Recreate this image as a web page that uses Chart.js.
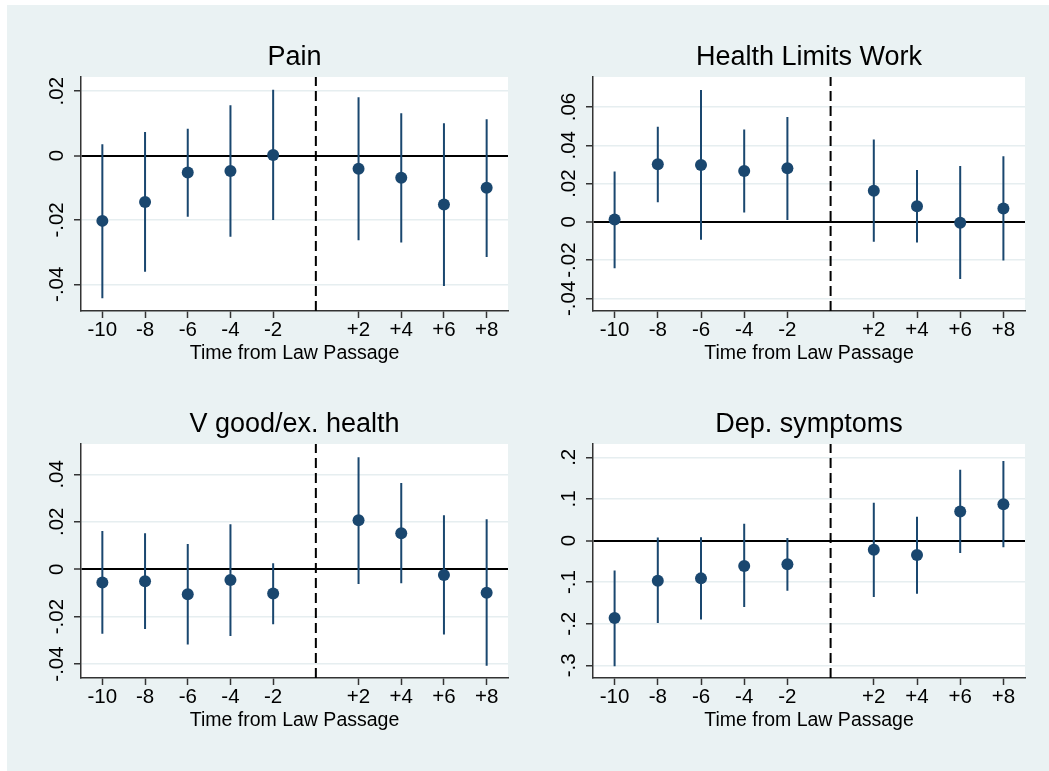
<!DOCTYPE html>
<html>
<head>
<meta charset="utf-8">
<script src="https://cdn.jsdelivr.net/npm/chart.js@4"></script>
<style>
  html, body { margin: 0; padding: 0; background: #fff; }
  #wrap { position: relative; width: 1049px; height: 771px; overflow: hidden; }
  #bg { position: absolute; left: 7px; top: 5px; right: 0; bottom: 0; background: #eaf2f3; }
  canvas { position: absolute; }
</style>
</head>
<body>
<div id="wrap"><div id="bg"></div></div>
<script>
// event time (years from law passage)
const periods = [-10, -8, -6, -4, -2, 2, 4, 6, 8]

// Pain
const painCoef = [-0.0203, -0.0144, -0.0053, -0.0048, 0.0002, -0.0041, -0.0069, -0.0152, -0.0100]
const painLo   = [-0.0443, -0.0361, -0.0190, -0.0252, -0.0200, -0.0263, -0.0270, -0.0405, -0.0315]
const painHi   = [0.0035, 0.0073, 0.0083, 0.0156, 0.0204, 0.0181, 0.0131, 0.0100, 0.0113]
const painTicks = [-0.04, -0.02, 0, 0.02]
const painRange = [-0.0483, 0.0244]

// Health Limits Work
const workCoef = [0.0012, 0.0301, 0.0297, 0.0266, 0.0280, 0.0162, 0.0082, -0.0005, 0.0070]
const workLo   = [-0.0242, 0.0103, -0.0094, 0.0049, 0.0010, -0.0104, -0.0108, -0.0299, -0.0202]
const workHi   = [0.0263, 0.0497, 0.0689, 0.0483, 0.0548, 0.0430, 0.0271, 0.0292, 0.0343]
const workTicks = [-0.04, -0.02, 0, 0.02, 0.04, 0.06]
const workRange = [-0.0466, 0.0757]

// V good/ex. health
const goodCoef = [-0.0056, -0.0051, -0.0106, -0.0046, -0.0103, 0.0206, 0.0152, -0.0025, -0.0099]
const goodLo   = [-0.0272, -0.0252, -0.0318, -0.0282, -0.0232, -0.0062, -0.0059, -0.0276, -0.0407]
const goodHi   = [0.0161, 0.0152, 0.0106, 0.0189, 0.0025, 0.0472, 0.0363, 0.0227, 0.0211]
const goodTicks = [-0.04, -0.02, 0, 0.02, 0.04]
const goodRange = [-0.0459, 0.0528]

// Dep. symptoms
const depCoef = [-0.186, -0.097, -0.091, -0.061, -0.057, -0.022, -0.035, 0.070, 0.087]
const depLo   = [-0.302, -0.198, -0.190, -0.160, -0.121, -0.136, -0.128, -0.030, -0.016]
const depHi   = [-0.072, 0.007, 0.008, 0.040, 0.006, 0.091, 0.057, 0.170, 0.191]
const depTicks = [-0.3, -0.2, -0.1, 0, 0.1, 0.2]
const depRange = [-0.3305, 0.232]

const xRange = [-11, 9]
const xTitle = 'Time from Law Passage'

const NAVY = '#1a476f'
const FONT = '"Liberation Sans", Arial, sans-serif'
const TICK_SIZE = 20.5
const TICK_LEN = 7
Chart.defaults.font.family = FONT
Chart.defaults.color = '#000'

// white plot region
const plotBg = {
  id: 'plotBg',
  beforeDraw(chart){
    const {ctx, chartArea: a} = chart
    ctx.save()
    ctx.fillStyle = '#fff'
    ctx.fillRect(a.left, a.top, a.right - a.left, a.bottom - a.top)
    ctx.restore()
  }
}

function fmtY(v){
  if (v === 0) return '0'
  return String(+v.toFixed(3)).replace('0.', '.')
}

function panel(box, title, coef, lo, hi, ticks, range){
  const padL = 75, padR = 15, padT = 50, padB = 60
  const canvas = document.createElement('canvas')
  canvas.width = (box.r - box.l) + padL + padR
  canvas.height = (box.b - box.t) + padT + padB
  canvas.style.left = (box.l - padL) + 'px'
  canvas.style.top = (box.t - padT) + 'px'
  document.getElementById('wrap').appendChild(canvas)

  // centre rotated y labels ~24px left of the axis
  const m = canvas.getContext('2d')
  m.font = TICK_SIZE + 'px ' + FONT
  const widest = Math.max(...ticks.map(v => m.measureText(fmtY(v)).width))
  const yPad = 24 - TICK_LEN - widest / 2

  const ci = []
  periods.forEach((x, i) => {
    ci.push({x: x, y: lo[i]}, {x: x, y: hi[i]}, {x: x, y: null})
  })

  new Chart(canvas, {
    type: 'line',
    data: {
      datasets: [
        {
          label: 'coef',
          data: periods.map((x, i) => ({x: x, y: coef[i]})),
          showLine: false,
          pointRadius: 6,
          pointBorderWidth: 0,
          pointBackgroundColor: NAVY,
          order: 0
        },
        {
          label: 'ci',
          data: ci,
          borderColor: NAVY,
          borderWidth: 2,
          pointRadius: 0,
          spanGaps: false,
          order: 1
        },
        {
          label: 'law',
          data: [{x: 0, y: range[0]}, {x: 0, y: range[1]}],
          borderColor: '#000',
          borderWidth: 2,
          borderDash: [10, 5],
          pointRadius: 0,
          order: 2
        }
      ]
    },
    options: {
      responsive: false,
      animation: false,
      layout: { padding: { left: 0, right: padR, top: 14.8, bottom: 0 } },
      plugins: {
        legend: { display: false },
        tooltip: { enabled: false },
        title: {
          display: true,
          text: title,
          fullSize: false,
          color: '#000',
          font: { size: 27, weight: 'normal' },
          padding: { top: 0, bottom: 2.8 }
        }
      },
      scales: {
        x: {
          type: 'linear',
          min: xRange[0],
          max: xRange[1],
          afterBuildTicks: s => { s.ticks = periods.map(v => ({value: v})) },
          afterFit: s => { s.height = padB },
          ticks: {
            padding: 0,
            maxRotation: 0,
            font: { size: TICK_SIZE },
            color: '#000',
            callback: v => v > 0 ? '+' + v : String(v)
          },
          grid: {
            drawOnChartArea: false,
            tickLength: TICK_LEN,
            tickWidth: 1.5,
            tickColor: '#333'
          },
          border: { color: '#333', width: 1.5 },
          title: {
            display: true,
            text: xTitle,
            color: '#000',
            font: { size: 19.5 },
            padding: { top: 0, bottom: 5.8 }
          }
        },
        y: {
          min: range[0],
          max: range[1],
          afterBuildTicks: s => { s.ticks = ticks.map(v => ({value: v})) },
          afterFit: s => { s.width = padL },
          ticks: {
            minRotation: 90,
            maxRotation: 90,
            crossAlign: 'center',
            padding: yPad,
            font: { size: TICK_SIZE },
            color: '#000',
            callback: v => fmtY(v)
          },
          grid: {
            color: c => c.tick && c.tick.value === 0 ? '#000' : '#e6eef0',
            lineWidth: c => c.tick && c.tick.value === 0 ? 2 : 1.5,
            tickLength: TICK_LEN,
            tickWidth: 1.5,
            tickColor: '#333'
          },
          border: { color: '#333', width: 1.5 }
        }
      }
    },
    plugins: [plotBg]
  })
}

panel({l: 81, r: 508, t: 77, b: 311}, 'Pain', painCoef, painLo, painHi, painTicks, painRange)
panel({l: 593, r: 1025, t: 77, b: 311}, 'Health Limits Work', workCoef, workLo, workHi, workTicks, workRange)
panel({l: 81, r: 508, t: 444, b: 678}, 'V good/ex. health', goodCoef, goodLo, goodHi, goodTicks, goodRange)
panel({l: 593, r: 1025, t: 444, b: 678}, 'Dep. symptoms', depCoef, depLo, depHi, depTicks, depRange)
</script>
</body>
</html>
